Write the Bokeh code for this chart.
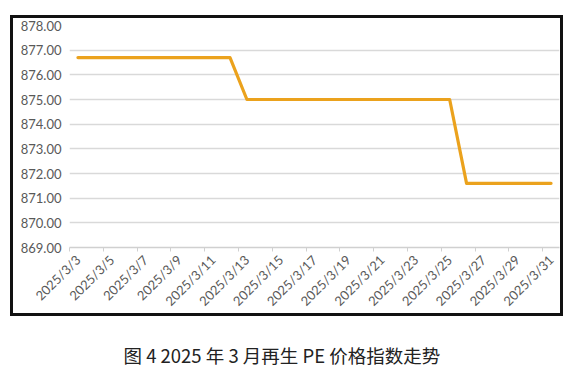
import math
from bokeh.plotting import figure
from bokeh.models import Range1d, FixedTicker, PrintfTickFormatter
from bokeh.core.properties import value
from bokeh.embed import file_html
from bokeh.resources import INLINE

# ---- data ----
days = [3, 4, 5, 6, 7, 8, 9, 10, 11, 12, 13, 14, 15, 16, 17, 18, 19, 20,
        21, 22, 23, 24, 25, 26, 27, 28, 29, 30, 31]
prices = [876.7, 876.7, 876.7, 876.7, 876.7, 876.7, 876.7, 876.7, 876.7, 876.7,
          875.0, 875.0, 875.0, 875.0, 875.0, 875.0, 875.0, 875.0, 875.0, 875.0,
          875.0, 875.0, 875.0,
          871.6, 871.6, 871.6, 871.6, 871.6, 871.6]
label_days = [3, 5, 7, 9, 11, 13, 15, 17, 19, 21, 23, 25, 27, 29, 31]
tick_labels = ["2025/3/3", "2025/3/5", "2025/3/7", "2025/3/9", "2025/3/11",
               "2025/3/13", "2025/3/15", "2025/3/17", "2025/3/19", "2025/3/21",
               "2025/3/23", "2025/3/25", "2025/3/27", "2025/3/29", "2025/3/31"]
y_ticks = [869, 870, 871, 872, 873, 874, 875, 876, 877, 878]
caption = "图 4  2025 年 3 月再生 PE 价格指数走势"

p = figure(width=553, height=301,
           min_border_left=56, min_border_right=7, min_border_top=7, min_border_bottom=72,
           x_range=Range1d(days[0] - 0.5, days[-1] + 0.5),
           y_range=Range1d(y_ticks[0], y_ticks[-1]),
           output_backend="svg", toolbar_location=None)
p.styles = {"border": "3px solid #111111", "margin-left": "10px", "margin-top": "15px"}
p.outline_line_color = None
p.background_fill_color = "white"
p.border_fill_color = "white"

p.line(days, prices, line_color="#EBA21D", line_width=3.2, line_join="round", line_cap="round")

# x axis
p.xaxis.ticker = FixedTicker(ticks=label_days, minor_ticks=[d - 0.5 for d in label_days])
p.xaxis.major_label_overrides = {d: t for d, t in zip(label_days, tick_labels)}
p.xaxis.major_label_orientation = math.pi / 4
p.xaxis.major_tick_line_color = None
p.xaxis.major_tick_out = 0
p.xaxis.major_tick_in = 0
p.xaxis.minor_tick_line_color = "#d0d0d0"
p.xaxis.minor_tick_in = 0
p.xaxis.minor_tick_out = 4
p.xaxis.axis_line_color = "#d0d0d0"
p.xaxis.axis_line_width = 1.5
p.xaxis.major_label_text_font = "Lato"
p.xaxis.major_label_text_font_size = "13px"
p.xaxis.major_label_text_color = "#595959"
p.xaxis.major_label_standoff = 6
p.xgrid.grid_line_color = None

# y axis
p.yaxis.ticker = FixedTicker(ticks=y_ticks)
p.yaxis.formatter = PrintfTickFormatter(format="%.2f")
p.yaxis.axis_line_color = None
p.yaxis.major_tick_line_color = None
p.yaxis.major_tick_out = 0
p.yaxis.major_tick_in = 0
p.yaxis.minor_tick_line_color = None
p.yaxis.minor_tick_out = 0
p.yaxis.minor_tick_in = 0
p.yaxis.major_label_standoff = 8
p.yaxis.major_label_text_font = "Lato"
p.yaxis.major_label_text_font_size = "13px"
p.yaxis.major_label_text_color = "#595959"
p.ygrid.grid_line_color = "#d9d9d9"
p.ygrid.grid_line_width = 1.5

# caption figure (no axes), separate root so it is not frame-aligned with the chart
c = figure(width=574, height=60, x_range=Range1d(0, 574), y_range=Range1d(0, 60),
           x_axis_location=None, y_axis_location=None,
           output_backend="svg", toolbar_location=None, min_border=0)
c.grid.visible = False
c.outline_line_color = None
c.text(x=[123], y=[22], text=[caption], text_font=value("Noto Sans CJK SC"),
       text_font_size="18.5px", text_color="#222222",
       text_align="left", text_baseline="middle")

open("out.html", "w").write(file_html([p, c], INLINE))
